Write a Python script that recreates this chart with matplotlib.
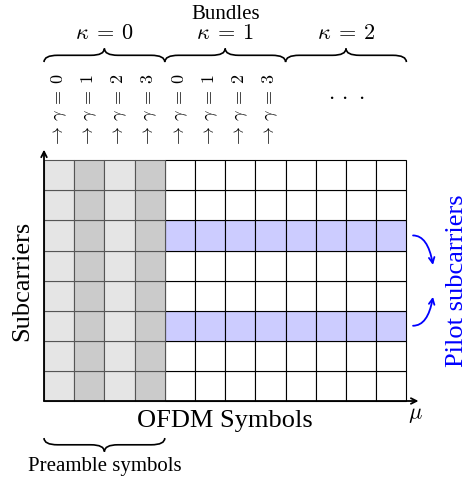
import matplotlib
matplotlib.use('Agg')
import matplotlib.pyplot as plt
from matplotlib.patches import Rectangle, PathPatch
from matplotlib.path import Path

plt.rcParams['font.family'] = ['Liberation Serif', 'DejaVu Serif']
plt.rcParams['mathtext.fontset'] = 'cm'

# grid layout
n_symbols = 12
n_subcarriers = 8
n_preamble = 4
pilot_rows = [5, 2]
bundle_labels = [r'$\kappa\:=\:0$', r'$\kappa\:=\:1$', r'$\kappa\:=\:2$']
bundle_width = 4
gamma_values = [0, 1, 2, 3, 0, 1, 2, 3]

light_gray = '#e5e5e5'
dark_gray = '#cbcbcb'
pilot_blue = '#ccccff'


def brace(ax, x0, x1, y0, h, q=0.45, lw=1.2):
    xm = (x0 + x1) / 2
    ymid = y0 + h / 2
    verts = [(x0, y0), (x0, ymid), (x0 + q, ymid),
             (xm - q, ymid),
             (xm, ymid), (xm, y0 + h),
             (xm, ymid), (xm + q, ymid),
             (x1 - q, ymid),
             (x1, ymid), (x1, y0)]
    codes = [Path.MOVETO, Path.CURVE3, Path.CURVE3,
             Path.LINETO,
             Path.CURVE3, Path.CURVE3,
             Path.CURVE3, Path.CURVE3,
             Path.LINETO,
             Path.CURVE3, Path.CURVE3]
    ax.add_patch(PathPatch(Path(verts, codes), fill=False, lw=lw, color='black'))


fig = plt.figure(figsize=(4.74, 4.82), dpi=100)
ax = fig.add_axes([0, 0, 1, 1])
ax.set_xlim(-44 / 30.2, (474 - 44) / 30.2)
ax.set_ylim(-(482 - 401) / 30.1, 401 / 30.1)
ax.axis('off')

# data cells
for i in range(n_preamble, n_symbols):
    for j in range(n_subcarriers):
        fc = pilot_blue if j in pilot_rows else 'white'
        ax.add_patch(Rectangle((i, j), 1, 1, facecolor=fc, edgecolor='black', lw=0.8))

# preamble cells
for i in range(n_preamble):
    fc = light_gray if i % 2 == 0 else dark_gray
    for j in range(n_subcarriers):
        ax.add_patch(Rectangle((i, j), 1, 1, facecolor=fc, edgecolor='#555555', lw=0.8))

# axes arrows
ax.annotate('', xy=(0, 8.35), xytext=(0, 0),
            arrowprops=dict(arrowstyle='->', lw=1.3, color='black', shrinkA=0, shrinkB=0))
ax.annotate('', xy=(12.4, 0), xytext=(0, 0),
            arrowprops=dict(arrowstyle='->', lw=1.3, color='black', shrinkA=0, shrinkB=0))

# bundle labels and braces
ax.text(n_symbols / 2, 12.83, 'Bundles', ha='center', va='center', fontsize=15)
for k, lab in enumerate(bundle_labels):
    x0 = k * bundle_width
    ax.text(x0 + bundle_width / 2, 12.16, lab, ha='center', va='center', fontsize=16)
    brace(ax, x0, x0 + bundle_width, 11.26, 0.45)

# gamma labels
for i, g in enumerate(gamma_values):
    ax.text(i + 0.5, 8.4, r'$\rightarrow\:\gamma\:=\:%d$' % g, rotation=90,
            ha='center', va='bottom', fontsize=13)
ax.text(10.0, 10.1, r'$\cdot\,\cdot\,\cdot$', ha='center', va='center', fontsize=16)

# axis labels
ax.text(-0.73, n_subcarriers / 2, 'Subcarriers', rotation=90, ha='center', va='center', fontsize=19)
ax.text(n_symbols / 2, -0.66, 'OFDM Symbols', ha='center', va='center', fontsize=19)
ax.text(12.3, -0.47, r'$\mu$', ha='center', va='center', fontsize=16)

# preamble brace
brace(ax, 0, n_preamble, -1.23, -0.45)
ax.text(n_preamble / 2, -2.19, 'Preamble symbols', ha='center', va='center', fontsize=15)

# pilot annotation
ax.text(13.68, n_subcarriers / 2, 'Pilot subcarriers', rotation=90, ha='center', va='center',
        fontsize=19, color='blue')
ax.annotate('', xy=(12.88, 4.52), xytext=(12.22, pilot_rows[0] + 0.5),
            arrowprops=dict(arrowstyle='->', lw=1.3, color='blue', shrinkA=0, shrinkB=0,
                            connectionstyle='angle3,angleA=0,angleB=100'))
ax.annotate('', xy=(12.88, 3.46), xytext=(12.22, pilot_rows[1] + 0.5),
            arrowprops=dict(arrowstyle='->', lw=1.3, color='blue', shrinkA=0, shrinkB=0,
                            connectionstyle='angle3,angleA=0,angleB=80'))

fig.savefig('out.png', dpi=100)
